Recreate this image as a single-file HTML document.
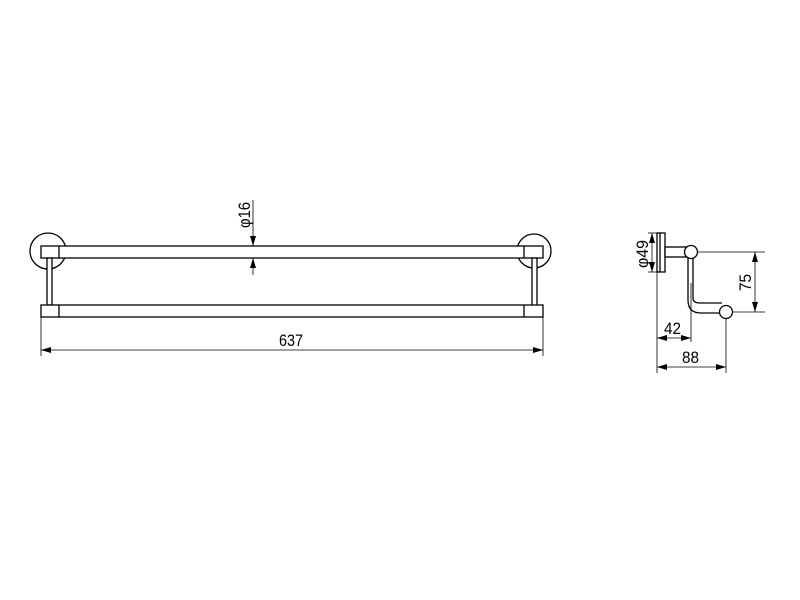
<!DOCTYPE html>
<html><head><style>html,body{margin:0;padding:0;background:#fff}svg{display:block}</style></head>
<body>
<svg width="800" height="600" viewBox="0 0 800 600" xmlns="http://www.w3.org/2000/svg">
<defs>
<marker id="a" viewBox="0 0 10 6" refX="10" refY="3" markerWidth="10" markerHeight="6" orient="auto-start-reverse" markerUnits="userSpaceOnUse"><path d="M0,0L10,3L0,6z" fill="#000"/></marker>
</defs>
<g fill="none" stroke="#000" stroke-width="1.3">
<!-- left rosette -->
<circle cx="48" cy="251" r="18" fill="#fff"/>
<circle cx="534" cy="251" r="17" fill="#fff"/>
<!-- top bar -->
<rect x="41" y="246" width="502" height="12" fill="#fff"/>
<line x1="59" y1="246" x2="59" y2="258"/>
<line x1="524" y1="246" x2="524" y2="258"/>
<!-- posts -->
<rect x="47" y="258" width="5" height="47" fill="#fff"/>
<rect x="532" y="258" width="5" height="48" fill="#fff"/>
<!-- bottom bar -->
<rect x="41" y="305" width="502" height="12" fill="#fff"/>
<line x1="59" y1="305" x2="59" y2="317"/>
<line x1="524" y1="305" x2="524" y2="317"/>
</g>
<g fill="none" stroke="#000" stroke-width="0.8">
<!-- 637 dim -->
<line x1="41" y1="317" x2="41" y2="356"/>
<line x1="543" y1="317" x2="543" y2="356"/>
<line x1="41" y1="350" x2="543" y2="350" marker-start="url(#a)" marker-end="url(#a)"/>
<!-- phi16 -->
<line x1="253" y1="200" x2="253" y2="246" marker-end="url(#a)"/>
<line x1="253" y1="275" x2="253" y2="258" marker-end="url(#a)"/>
<!-- right view dims -->
<line x1="648" y1="233" x2="657" y2="233"/>
<line x1="648" y1="272" x2="657" y2="272"/>
<line x1="652" y1="233" x2="652" y2="272" marker-start="url(#a)" marker-end="url(#a)"/>
<line x1="657" y1="272" x2="657" y2="373"/>
<line x1="691" y1="283" x2="691" y2="342"/>
<line x1="726" y1="318" x2="726" y2="373"/>
<line x1="657" y1="338" x2="691" y2="338" marker-start="url(#a)" marker-end="url(#a)"/>
<line x1="657" y1="367" x2="726" y2="367" marker-start="url(#a)" marker-end="url(#a)"/>
<line x1="697" y1="252" x2="765" y2="252"/>
<line x1="732" y1="312" x2="765" y2="312"/>
<line x1="755" y1="252" x2="755" y2="312" marker-start="url(#a)" marker-end="url(#a)"/>
</g>
<g fill="none" stroke="#000" stroke-width="1.3">
<rect x="657" y="233" width="8" height="39" fill="#fff"/>
<line x1="660" y1="233" x2="660" y2="272"/>
<rect x="665" y="247" width="23" height="10" fill="#fff"/>
<path d="M688,258 V300 Q688,313 701,313 H722 M693,258 V298 Q693,303 700,303 H722"/>
<circle cx="691" cy="252" r="6.5" fill="#fff"/>
<circle cx="726" cy="312" r="6.5" fill="#fff"/>
</g>
<g font-family="Liberation Sans, sans-serif" font-size="17" fill="#000">
<text x="279" y="346" textLength="24" lengthAdjust="spacingAndGlyphs">637</text>
<text x="664" y="334" textLength="17" lengthAdjust="spacingAndGlyphs">42</text>
<text x="682" y="363" textLength="17" lengthAdjust="spacingAndGlyphs">88</text>
<text transform="translate(250,228) rotate(-90)" textLength="26" lengthAdjust="spacingAndGlyphs">φ16</text>
<text transform="translate(648,268) rotate(-90)" textLength="28" lengthAdjust="spacingAndGlyphs">φ49</text>
<text transform="translate(751,291) rotate(-90)" textLength="17" lengthAdjust="spacingAndGlyphs">75</text>
</g>
</svg>
</body></html>
